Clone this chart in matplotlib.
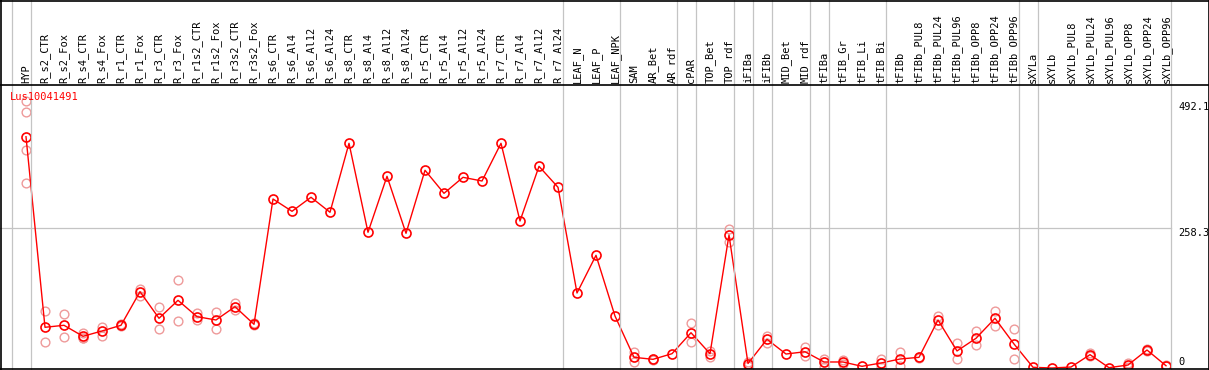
import matplotlib
matplotlib.use("Agg")
import matplotlib.pyplot as plt
import matplotlib.transforms as mtransforms
from matplotlib.lines import Line2D

gene = "Lus10041491"

labels = ["HYP", "R_s2_CTR", "R_s2_Fox", "R_s4_CTR", "R_s4_Fox", "R_r1_CTR", "R_r1_Fox",
          "R_r3_CTR", "R_r3_Fox", "R_r1s2_CTR", "R_r1s2_Fox", "R_r3s2_CTR", "R_r3s2_Fox",
          "R_s6_CTR", "R_s6_Al4", "R_s6_Al12", "R_s6_Al24", "R_s8_CTR", "R_s8_Al4",
          "R_s8_Al12", "R_s8_Al24", "R_r5_CTR", "R_r5_Al4", "R_r5_Al12", "R_r5_Al24",
          "R_r7_CTR", "R_r7_Al4", "R_r7_Al12", "R_r7_Al24", "LEAF_N", "LEAF_P", "LEAF_NPK",
          "SAM", "AR_Bet", "AR_rdf", "cPAR", "TOP_Bet", "TOP_rdf", "iFIBa", "iFIBb",
          "MID_Bet", "MID_rdf", "tFIBa", "tFIB_Gr", "tFIB_Li", "tFIB_Bi", "tFIBb",
          "tFIBb_PUL8", "tFIBb_PUL24", "tFIBb_PUL96", "tFIBb_OPP8", "tFIBb_OPP24",
          "tFIBb_OPP96", "sXYLa", "sXYLb", "sXYLb_PUL8", "sXYLb_PUL24", "sXYLb_PUL96",
          "sXYLb_OPP8", "sXYLb_OPP24", "sXYLb_OPP96"]

means = [426.7, 75.1, 78.8, 58.5, 68.3, 78.8, 140.8, 91.7, 124.9, 94.7, 88.6, 113.1, 80.6,
         311.8, 289.1, 315.0, 287.3, 414.6, 250.4, 353.7, 248.5, 364.8, 322.3, 351.8, 345.0,
         414.6, 271.2, 372.1, 333.4, 138.4, 207.9, 95.9, 19.7, 16.0, 26.4, 65.1, 26.4,
         245.4, 8.3, 53.0, 25.8, 30.0, 11.1, 11.1, 3.1, 9.2, 16.6, 19.7, 88.6, 31.4, 54.8,
         91.7, 44.3, 1.3, 0.0, 1.8, 24.6, 0.6, 5.5, 33.2, 4.2]

# replicate values (sample index, value)
rep_idx = [0, 0, 0, 0, 1, 1, 2, 2, 3, 3, 3, 4, 4, 5, 5, 6, 6, 7, 7, 8, 8, 9, 9, 10, 10,
           11, 11, 12, 12, 32, 32, 33, 33, 35, 35, 36, 36, 37, 37, 38, 38, 39, 39, 41, 41,
           42, 42, 43, 43, 45, 45, 46, 46, 47, 47, 48, 48, 49, 49, 50, 50, 51, 51, 52, 52,
           56, 56, 58, 58, 59, 59, 60, 60]
rep_vals = [492.1, 471.8, 402.2, 340.8, 105.2, 47.4, 99.6, 57.7, 65.1, 54.8, 56.0, 75.6, 59.0,
            80.6, 77.5, 145.8, 133.4, 113.1, 71.4, 161.8, 86.2, 102.0, 88.6, 102.8, 71.4,
            120.5, 107.0, 82.5, 78.8, 30.0, 11.0, 17.5, 14.5, 82.5, 48.5, 31.4, 20.9,
            256.5, 233.0, 11.6, 4.2, 59.6, 46.7, 39.3, 22.1, 16.6, 2.4, 14.0, 8.0, 16.0, 2.4,
            29.0, 3.7, 21.0, 18.0, 96.5, 79.3, 45.6, 16.0, 68.3, 41.9, 105.2, 78.0, 71.4, 16.0,
            27.0, 22.0, 9.8, 1.5, 35.0, 31.0, 5.0, 3.0]

# group separators sit just right of these samples
group_ends = [-1, 0, 28, 31, 34, 35, 37, 38, 39, 41, 42, 45, 52, 53, 60]

axis_marks = [492.1, 258.3, 0]
axis_mark_px = [107, 232.5, 362]   # label centres, pixels from the top

W, H = 1209, 370
fig = plt.figure(figsize=(W / 100, H / 100), dpi=100)
mono = "DejaVu Sans Mono"

def fy(py):
    return 1 - py / H

# plot area: y from 85 px (header line) to 368 px, x index i at 26 + 19*i px
ax = fig.add_axes([0, fy(368), 1, (368 - 85) / H])
ax.set_xlim(-26 / 19, (W - 26) / 19)
ax.set_ylim(0, (368 - 85) * 1.845)
ax.axis("off")

x = list(range(len(labels)))
xfig = mtransforms.blended_transform_factory(ax.transData, fig.transFigure)

for g in group_ends:
    fig.add_artist(Line2D([g + 0.25, g + 0.25], [0, 1], transform=xfig,
                          color="#c4c4c4", lw=0.9))

ax.plot([-26 / 19, 60.25], [258.3, 258.3], color="#c4c4c4", lw=0.9)

ax.plot(rep_idx, rep_vals, linestyle="none", marker="o", markersize=6.3,
        markerfacecolor="none", markeredgecolor="#ee9a9a", markeredgewidth=1.0)
ax.plot(x, means, color="red", lw=1.0, marker="o", markersize=6.5,
        markerfacecolor="none", markeredgecolor="red", markeredgewidth=1.2)

for i, lab in enumerate(labels):
    ax.text(i, fy(83), lab, transform=xfig, rotation=90, ha="center", va="bottom",
            fontsize=7.5, family=mono, color="black")

fig.text(10 / W, fy(97), gene, color="red", fontsize=7.5, family=mono, va="center")

for val, py in zip(axis_marks, axis_mark_px):
    fig.text(1178 / W, fy(py), str(val), fontsize=7.5, family=mono, va="center")

# black frame and header separator
for xs, ys in [([0, 1], [fy(0.5), fy(0.5)]), ([0, 1], [fy(85), fy(85)]),
               ([0, 1], [fy(368.5), fy(368.5)]), ([0.5 / W, 0.5 / W], [0, 1]),
               ([1 - 0.5 / W, 1 - 0.5 / W], [0, 1])]:
    fig.add_artist(Line2D(xs, ys, color="black", lw=1.2))

fig.savefig("out.png", dpi=100)
